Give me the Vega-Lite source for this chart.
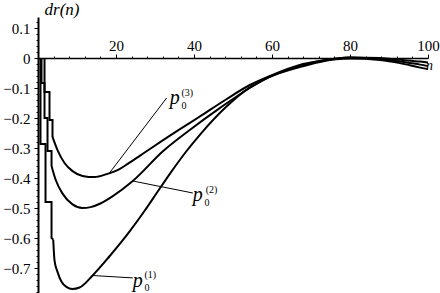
{
  "$schema": "https://vega.github.io/schema/vega-lite/v6.json",
  "width": 390,
  "height": 276,
  "autosize": {"type": "none"},
  "padding": {"left": 38, "top": 17, "right": 12, "bottom": 0},
  "background": "white",
  "view": {"stroke": null},
  "config": {"font": "Liberation Serif"},
  "datasets": {
    "curves": [
      {"s": "p1", "part": "stair", "i": 0, "n": 0.64, "v": 0},
      {"s": "p1", "part": "stair", "i": 1, "n": 0.64, "v": -0.287},
      {"s": "p1", "part": "stair", "i": 2, "n": 1.93, "v": -0.287},
      {"s": "p1", "part": "stair", "i": 3, "n": 1.93, "v": -0.48},
      {"s": "p1", "part": "stair", "i": 4, "n": 3.47, "v": -0.48},
      {"s": "p1", "part": "stair", "i": 5, "n": 3.47, "v": -0.6},
      {"s": "p1", "part": "stair", "i": 6, "n": 3.9, "v": -0.605},
      {"s": "p1", "part": "curve", "i": 6, "n": 3.9, "v": -0.605},
      {"s": "p1", "part": "curve", "i": 7, "n": 4.24, "v": -0.675},
      {"s": "p1", "part": "curve", "i": 8, "n": 5.0, "v": -0.713},
      {"s": "p1", "part": "curve", "i": 9, "n": 6.0, "v": -0.745},
      {"s": "p1", "part": "curve", "i": 10, "n": 7.3, "v": -0.763},
      {"s": "p1", "part": "curve", "i": 11, "n": 8.8, "v": -0.77},
      {"s": "p1", "part": "curve", "i": 12, "n": 10.65, "v": -0.765},
      {"s": "p1", "part": "curve", "i": 13, "n": 14.0, "v": -0.725},
      {"s": "p1", "part": "curve", "i": 14, "n": 18.4, "v": -0.66},
      {"s": "p1", "part": "curve", "i": 15, "n": 23.5, "v": -0.578},
      {"s": "p1", "part": "curve", "i": 16, "n": 27.3, "v": -0.51},
      {"s": "p1", "part": "curve", "i": 17, "n": 30.7, "v": -0.445},
      {"s": "p1", "part": "curve", "i": 18, "n": 34.3, "v": -0.377},
      {"s": "p1", "part": "curve", "i": 19, "n": 38.1, "v": -0.31},
      {"s": "p1", "part": "curve", "i": 20, "n": 41.5, "v": -0.256},
      {"s": "p1", "part": "curve", "i": 21, "n": 48.4, "v": -0.161},
      {"s": "p1", "part": "curve", "i": 22, "n": 54.3, "v": -0.098},
      {"s": "p1", "part": "curve", "i": 23, "n": 59.4, "v": -0.063},
      {"s": "p1", "part": "curve", "i": 24, "n": 67.1, "v": -0.03},
      {"s": "p1", "part": "curve", "i": 25, "n": 72.3, "v": -0.013},
      {"s": "p1", "part": "curve", "i": 26, "n": 80, "v": -0.002},
      {"s": "p1", "part": "curve", "i": 27, "n": 87.7, "v": -0.007},
      {"s": "p1", "part": "curve", "i": 28, "n": 92.8, "v": -0.017},
      {"s": "p1", "part": "curve", "i": 29, "n": 98, "v": -0.032},
      {"s": "p1", "part": "curve", "i": 30, "n": 100, "v": -0.037},

      {"s": "p2", "part": "stair", "i": 0, "n": 0.9, "v": 0},
      {"s": "p2", "part": "stair", "i": 1, "n": 0.9, "v": -0.083},
      {"s": "p2", "part": "stair", "i": 2, "n": 1.67, "v": -0.083},
      {"s": "p2", "part": "stair", "i": 3, "n": 1.67, "v": -0.2},
      {"s": "p2", "part": "stair", "i": 4, "n": 2.44, "v": -0.2},
      {"s": "p2", "part": "stair", "i": 5, "n": 2.44, "v": -0.31},
      {"s": "p2", "part": "stair", "i": 6, "n": 3.47, "v": -0.31},
      {"s": "p2", "part": "stair", "i": 7, "n": 3.47, "v": -0.36},
      {"s": "p2", "part": "curve", "i": 7, "n": 3.47, "v": -0.36},
      {"s": "p2", "part": "curve", "i": 8, "n": 4.5, "v": -0.405},
      {"s": "p2", "part": "curve", "i": 9, "n": 6.3, "v": -0.452},
      {"s": "p2", "part": "curve", "i": 10, "n": 8.86, "v": -0.488},
      {"s": "p2", "part": "curve", "i": 11, "n": 11.4, "v": -0.5},
      {"s": "p2", "part": "curve", "i": 12, "n": 13.5, "v": -0.497},
      {"s": "p2", "part": "curve", "i": 13, "n": 16.0, "v": -0.485},
      {"s": "p2", "part": "curve", "i": 14, "n": 19.0, "v": -0.462},
      {"s": "p2", "part": "curve", "i": 15, "n": 24.3, "v": -0.41},
      {"s": "p2", "part": "curve", "i": 16, "n": 32.1, "v": -0.31},
      {"s": "p2", "part": "curve", "i": 17, "n": 38.9, "v": -0.24},
      {"s": "p2", "part": "curve", "i": 18, "n": 46.6, "v": -0.167},
      {"s": "p2", "part": "curve", "i": 19, "n": 54.3, "v": -0.1},
      {"s": "p2", "part": "curve", "i": 20, "n": 59.4, "v": -0.063},
      {"s": "p2", "part": "curve", "i": 21, "n": 67.1, "v": -0.027},
      {"s": "p2", "part": "curve", "i": 22, "n": 72.3, "v": -0.01},
      {"s": "p2", "part": "curve", "i": 23, "n": 80, "v": 0.002},
      {"s": "p2", "part": "curve", "i": 24, "n": 87.7, "v": -0.003},
      {"s": "p2", "part": "curve", "i": 25, "n": 92.8, "v": -0.012},
      {"s": "p2", "part": "curve", "i": 26, "n": 98, "v": -0.022},
      {"s": "p2", "part": "curve", "i": 27, "n": 100, "v": -0.027},

      {"s": "p3", "part": "stair", "i": 0, "n": 1.67, "v": 0},
      {"s": "p3", "part": "stair", "i": 1, "n": 1.67, "v": -0.113},
      {"s": "p3", "part": "stair", "i": 2, "n": 2.95, "v": -0.113},
      {"s": "p3", "part": "stair", "i": 3, "n": 2.95, "v": -0.207},
      {"s": "p3", "part": "stair", "i": 4, "n": 3.72, "v": -0.207},
      {"s": "p3", "part": "stair", "i": 5, "n": 3.72, "v": -0.263},
      {"s": "p3", "part": "curve", "i": 5, "n": 3.72, "v": -0.263},
      {"s": "p3", "part": "curve", "i": 6, "n": 5.0, "v": -0.307},
      {"s": "p3", "part": "curve", "i": 7, "n": 6.8, "v": -0.35},
      {"s": "p3", "part": "curve", "i": 8, "n": 8.86, "v": -0.377},
      {"s": "p3", "part": "curve", "i": 9, "n": 11.4, "v": -0.393},
      {"s": "p3", "part": "curve", "i": 10, "n": 14.5, "v": -0.397},
      {"s": "p3", "part": "curve", "i": 11, "n": 17.6, "v": -0.387},
      {"s": "p3", "part": "curve", "i": 12, "n": 20.9, "v": -0.37},
      {"s": "p3", "part": "curve", "i": 13, "n": 23.0, "v": -0.353},
      {"s": "p3", "part": "curve", "i": 14, "n": 26.0, "v": -0.327},
      {"s": "p3", "part": "curve", "i": 15, "n": 28.6, "v": -0.304},
      {"s": "p3", "part": "curve", "i": 16, "n": 36.3, "v": -0.238},
      {"s": "p3", "part": "curve", "i": 17, "n": 41.5, "v": -0.195},
      {"s": "p3", "part": "curve", "i": 18, "n": 48.0, "v": -0.14},
      {"s": "p3", "part": "curve", "i": 19, "n": 54.3, "v": -0.09},
      {"s": "p3", "part": "curve", "i": 20, "n": 59.4, "v": -0.06},
      {"s": "p3", "part": "curve", "i": 21, "n": 67.1, "v": -0.023},
      {"s": "p3", "part": "curve", "i": 22, "n": 72.3, "v": -0.01},
      {"s": "p3", "part": "curve", "i": 23, "n": 80, "v": 0.002},
      {"s": "p3", "part": "curve", "i": 24, "n": 87.7, "v": 0},
      {"s": "p3", "part": "curve", "i": 25, "n": 92.8, "v": -0.006},
      {"s": "p3", "part": "curve", "i": 26, "n": 98, "v": -0.012},
      {"s": "p3", "part": "curve", "i": 27, "n": 100, "v": -0.015}
    ],
    "pointers": [
      {"s": "p3", "n": 18.4, "v": -0.382, "n2": 33.0, "v2": -0.133},
      {"s": "p2", "n": 24.3, "v": -0.41, "n2": 39.7, "v2": -0.45},
      {"s": "p1", "n": 14.0, "v": -0.725, "n2": 24.3, "v2": -0.733}
    ],
    "labels": [
      {"role": "p", "t": "p", "n": 33.8, "v": -0.153},
      {"role": "idx", "t": "0", "n": 36.8, "v": -0.17},
      {"role": "idx", "t": "(3)", "n": 36.8, "v": -0.127},
      {"role": "p", "t": "p", "n": 39.7, "v": -0.477},
      {"role": "idx", "t": "0", "n": 42.7, "v": -0.493},
      {"role": "idx", "t": "(2)", "n": 43.0, "v": -0.45},
      {"role": "p", "t": "p", "n": 24.3, "v": -0.763},
      {"role": "idx", "t": "0", "n": 27.3, "v": -0.777},
      {"role": "idx", "t": "(1)", "n": 27.3, "v": -0.733},
      {"role": "ttl", "t": "dr(n)", "n": 1.67, "v": 0.145},
      {"role": "ttl2", "t": "n", "n": 99.5, "v": -0.04}
    ]
  },
  "encoding": {
    "x": {
      "field": "n", "type": "quantitative",
      "scale": {"domain": [0, 100], "nice": false, "zero": false},
      "axis": {
        "orient": "top", "offset": -41, "title": null, "grid": false,
        "values": [4, 8, 12, 16, 20, 24, 28, 32, 36, 40, 44, 48, 52, 56, 60, 64, 68, 72, 76, 80, 84, 88, 92, 96, 100],
        "labelExpr": "datum.value % 20 === 0 ? datum.label : ''",
        "tickSize": {"condition": {"test": "datum.value % 20 === 0", "value": 4}, "value": 2},
        "domainColor": "black", "domainWidth": 1.5, "tickColor": "black", "tickWidth": 1,
        "labelFont": "Liberation Serif", "labelFontSize": 15, "labelColor": "black",
        "labelPadding": 1, "labelOverlap": false, "labelFlush": false
      }
    },
    "y": {
      "field": "v", "type": "quantitative",
      "scale": {"domain": [-0.7833, 0.1367], "nice": false, "zero": false},
      "axis": {
        "orient": "left", "title": null, "grid": false,
        "values": [-0.78, -0.76, -0.74, -0.72, -0.7, -0.68, -0.66, -0.64, -0.62, -0.6, -0.58, -0.56, -0.54, -0.52, -0.5, -0.48, -0.46, -0.44, -0.42, -0.4, -0.38, -0.36, -0.34, -0.32, -0.3, -0.28, -0.26, -0.24, -0.22, -0.2, -0.18, -0.16, -0.14, -0.12, -0.1, -0.08, -0.06, -0.04, -0.02, 0, 0.02, 0.04, 0.06, 0.08, 0.1, 0.12],
        "labelExpr": "abs(datum.value*10 - round(datum.value*10)) < 0.001 ? (abs(datum.value) < 0.001 ? '0' : format(datum.value, '.1f')) : ''",
        "tickSize": {"condition": {"test": "abs(datum.value*10 - round(datum.value*10)) < 0.001", "value": 4}, "value": 2},
        "domainColor": "black", "domainWidth": 2, "tickColor": "black", "tickWidth": 1,
        "labelFont": "Liberation Serif", "labelFontSize": 15, "labelColor": "black",
        "labelPadding": 4, "labelOverlap": false, "labelFlush": false
      }
    }
  },
  "layer": [
    {
      "data": {"name": "curves"},
      "transform": [{"filter": "datum.part === 'stair'"}],
      "mark": {"type": "line", "color": "black", "strokeWidth": 2, "interpolate": "linear", "clip": false},
      "encoding": {
        "detail": {"field": "s"},
        "order": {"field": "i", "type": "quantitative"}
      }
    },
    {
      "data": {"name": "curves"},
      "transform": [{"filter": "datum.part === 'curve'"}],
      "mark": {"type": "line", "color": "black", "strokeWidth": 2, "interpolate": "monotone", "clip": false},
      "encoding": {
        "detail": {"field": "s"},
        "order": {"field": "i", "type": "quantitative"}
      }
    },
    {
      "data": {"name": "pointers"},
      "mark": {"type": "rule", "color": "black", "strokeWidth": 1},
      "encoding": {
        "x2": {"field": "n2"},
        "y2": {"field": "v2"}
      }
    },
    {
      "data": {"name": "labels"},
      "transform": [{"filter": "datum.role === 'p'"}],
      "mark": {"type": "text", "font": "Liberation Serif", "fontStyle": "italic", "fontSize": 20, "align": "left", "baseline": "alphabetic", "color": "black"},
      "encoding": {"text": {"field": "t"}}
    },
    {
      "data": {"name": "labels"},
      "transform": [{"filter": "datum.role === 'idx'"}],
      "mark": {"type": "text", "font": "Liberation Serif", "fontSize": 10, "align": "left", "baseline": "alphabetic", "color": "black"},
      "encoding": {"text": {"field": "t"}}
    },
    {
      "data": {"name": "labels"},
      "transform": [{"filter": "datum.role === 'ttl'"}],
      "mark": {"type": "text", "font": "Liberation Serif", "fontStyle": "italic", "fontSize": 17, "align": "left", "baseline": "alphabetic", "color": "black"},
      "encoding": {"text": {"field": "t"}}
    },
    {
      "data": {"name": "labels"},
      "transform": [{"filter": "datum.role === 'ttl2'"}],
      "mark": {"type": "text", "font": "Liberation Serif", "fontStyle": "italic", "fontSize": 14, "align": "left", "baseline": "alphabetic", "color": "black"},
      "encoding": {"text": {"field": "t"}}
    }
  ]
}
